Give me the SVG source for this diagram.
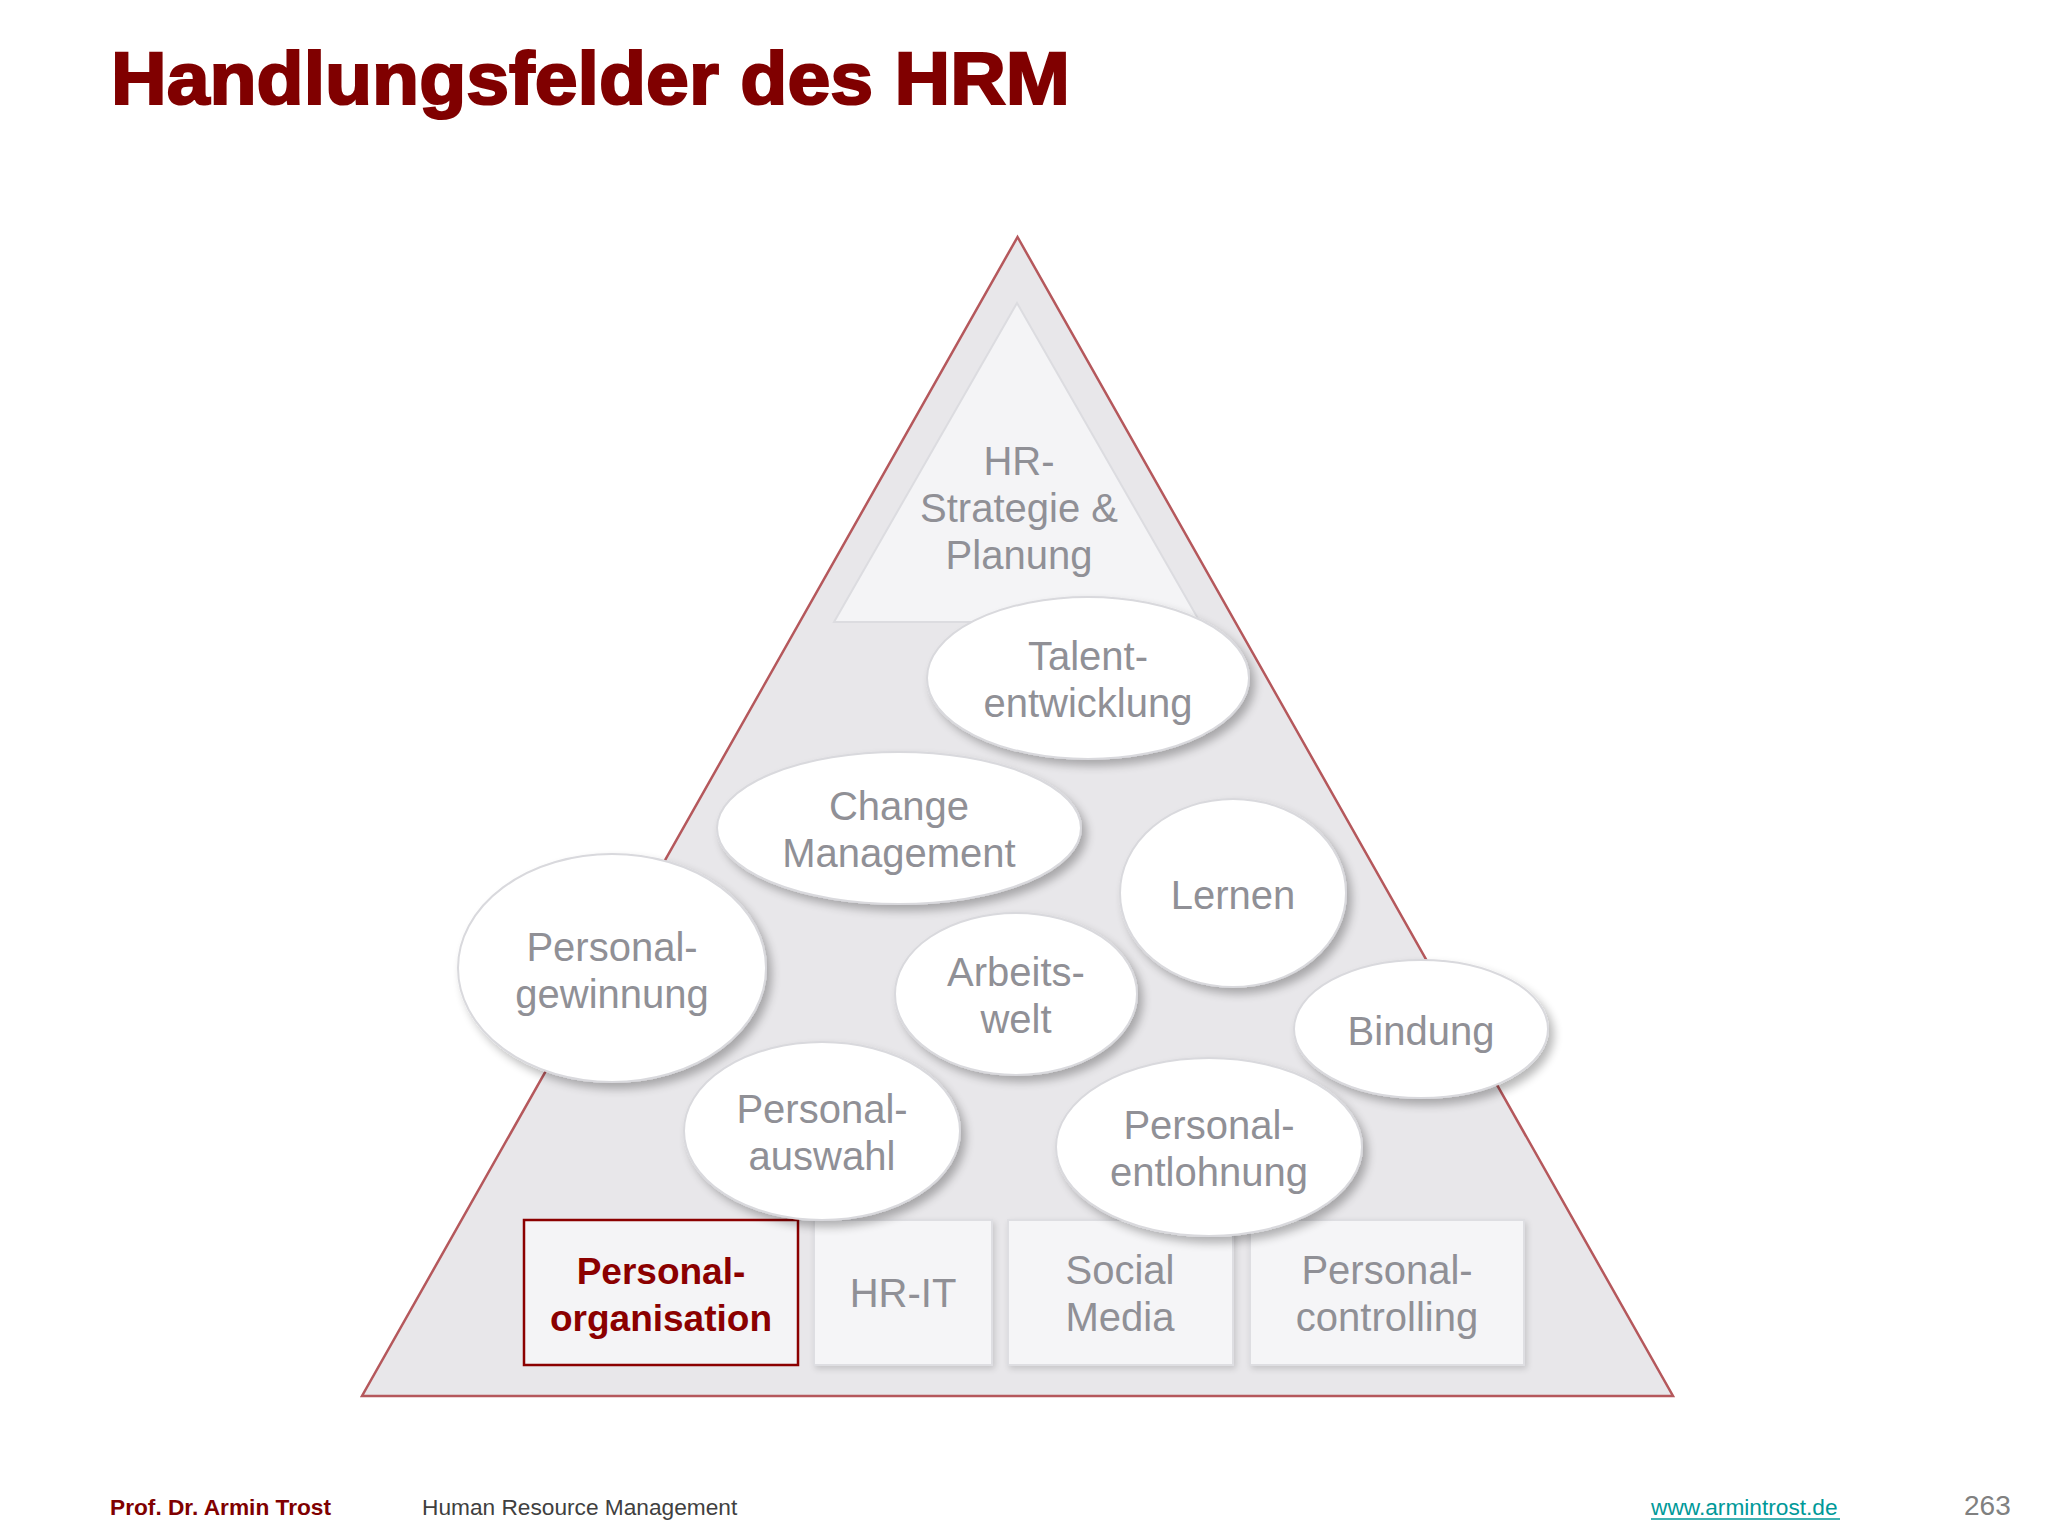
<svg xmlns="http://www.w3.org/2000/svg" width="2048" height="1536" viewBox="0 0 2048 1536">
<defs>
<filter id="sh" x="-20%" y="-20%" width="150%" height="150%">
<feGaussianBlur in="SourceAlpha" stdDeviation="5"/>
<feOffset dx="5" dy="6" result="b"/>
<feComponentTransfer><feFuncA type="linear" slope="0.28"/></feComponentTransfer>
<feMerge><feMergeNode/><feMergeNode in="SourceGraphic"/></feMerge>
</filter>
<filter id="shb" x="-10%" y="-10%" width="130%" height="130%">
<feGaussianBlur in="SourceAlpha" stdDeviation="3"/>
<feOffset dx="2" dy="3" result="b"/>
<feComponentTransfer><feFuncA type="linear" slope="0.15"/></feComponentTransfer>
<feMerge><feMergeNode/><feMergeNode in="SourceGraphic"/></feMerge>
</filter>
</defs>
<style>
.t{font-family:"Liberation Sans",Arial,sans-serif;font-size:40px;fill:#909096;text-anchor:middle}
.e{fill:#ffffff;stroke:#d9d9dd;stroke-width:2;filter:url(#sh)}
.b{fill:#f5f5f7;stroke:#dedee2;stroke-width:2;filter:url(#shb)}
.f{font-family:"Liberation Sans",Arial,sans-serif;font-size:22.7px}
</style>
<rect width="2048" height="1536" fill="#ffffff"/>
<text x="111" y="104" font-family="'Liberation Sans',Arial,sans-serif" font-weight="bold" font-size="75" fill="#800000" stroke="#800000" stroke-width="2.2" textLength="959" lengthAdjust="spacingAndGlyphs">Handlungsfelder des HRM</text>

<g id="pyramid">
<polygon points="1017.5,237 362,1396 1673,1396" fill="#e8e7ea" stroke="#b5585c" stroke-width="2.5" stroke-linejoin="miter"/>
</g>
<g id="hr-strategie">
<polygon points="1017,303 834,622 1200,622" fill="#f4f4f6" stroke="#dcdce0" stroke-width="2"/>
<text class="t" x="1019" y="475">HR-</text>
<text class="t" x="1019" y="522">Strategie &amp;</text>
<text class="t" x="1019" y="569">Planung</text>
</g>

<g id="personalorganisation">
<rect x="524" y="1220" width="274" height="145" fill="#f4f4f6" stroke="#8b0000" stroke-width="2.5"/>
<text class="t" x="661" y="1284" font-weight="bold" style="fill:#8b0000;font-size:37px">Personal-</text>
<text class="t" x="661" y="1331" font-weight="bold" style="fill:#8b0000;font-size:37px">organisation</text>
</g>
<g id="hr-it">
<rect class="b" x="814" y="1220" width="178" height="145"/>
<text class="t" x="903" y="1307">HR-IT</text>
</g>
<g id="social-media">
<rect class="b" x="1008" y="1220" width="225" height="145"/>
<text class="t" x="1120" y="1284">Social</text>
<text class="t" x="1120" y="1331">Media</text>
</g>
<g id="personalcontrolling">
<rect class="b" x="1250" y="1220" width="274" height="145"/>
<text class="t" x="1387" y="1284">Personal-</text>
<text class="t" x="1387" y="1331">controlling</text>
</g>

<g id="talententwicklung">
<ellipse class="e" cx="1088" cy="678" rx="161" ry="81"/>
<text class="t" x="1088" y="670">Talent-</text>
<text class="t" x="1088" y="717">entwicklung</text>
</g>
<g id="change-management">
<ellipse class="e" cx="899" cy="828" rx="182" ry="76"/>
<text class="t" x="899" y="820">Change</text>
<text class="t" x="899" y="867">Management</text>
</g>
<g id="lernen">
<ellipse class="e" cx="1233" cy="893" rx="113" ry="94"/>
<text class="t" x="1233" y="909">Lernen</text>
</g>
<g id="personalgewinnung">
<ellipse class="e" cx="612" cy="968" rx="154" ry="114"/>
<text class="t" x="612" y="961">Personal-</text>
<text class="t" x="612" y="1008">gewinnung</text>
</g>
<g id="arbeitswelt">
<ellipse class="e" cx="1016" cy="994" rx="121" ry="81"/>
<text class="t" x="1016" y="986">Arbeits-</text>
<text class="t" x="1016" y="1033">welt</text>
</g>
<g id="bindung">
<ellipse class="e" cx="1421" cy="1029" rx="127" ry="69"/>
<text class="t" x="1421" y="1045">Bindung</text>
</g>
<g id="personalauswahl">
<ellipse class="e" cx="822" cy="1131" rx="138" ry="89"/>
<text class="t" x="822" y="1123">Personal-</text>
<text class="t" x="822" y="1170">auswahl</text>
</g>
<g id="personalentlohnung">
<ellipse class="e" cx="1209" cy="1147" rx="153" ry="89"/>
<text class="t" x="1209" y="1139">Personal-</text>
<text class="t" x="1209" y="1186">entlohnung</text>
</g>

<g id="connectors"></g>

<g id="footer">
<text class="f" x="110" y="1515" font-weight="bold" fill="#800000">Prof. Dr. Armin Trost</text>
<text class="f" x="422" y="1515" fill="#404040">Human Resource Management</text>
<text class="f" x="1651" y="1515" fill="#009999">www.armintrost.de</text>
<line x1="1651" y1="1519" x2="1840" y2="1519" stroke="#009999" stroke-width="1.5"/>
<text x="1964" y="1515" font-family="'Liberation Sans',Arial,sans-serif" font-size="28" fill="#808080">263</text>
</g>
</svg>
